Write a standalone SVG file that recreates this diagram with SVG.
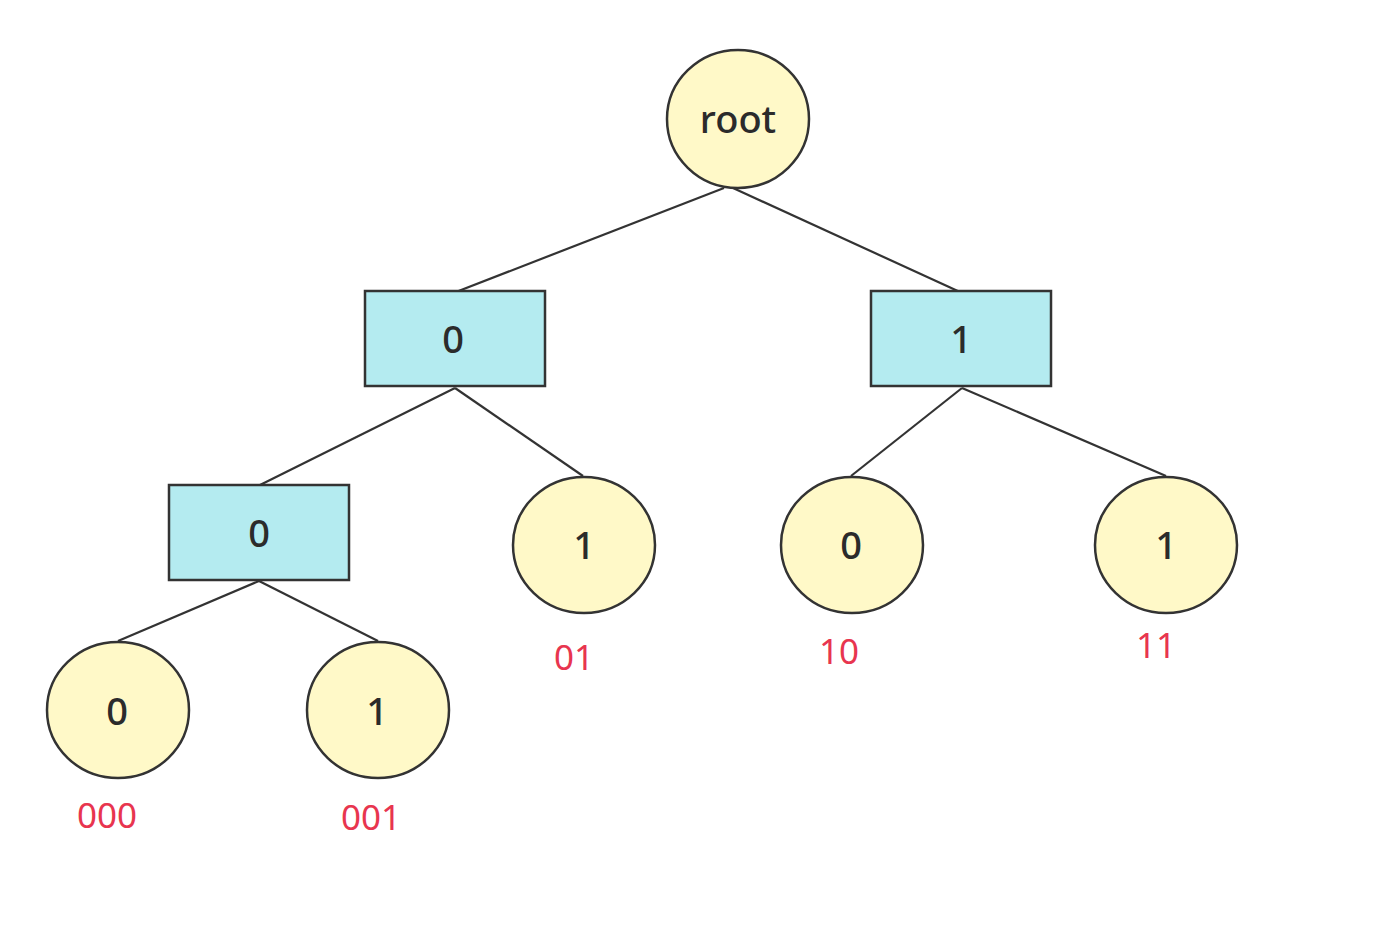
<svg xmlns="http://www.w3.org/2000/svg" width="1398" height="934" viewBox="0 0 1398 934">
<style>
.c{fill:#fff9c8;stroke:#333;stroke-width:2.5}
.r{fill:#b4ebf0;stroke:#333;stroke-width:2.5}
.t{font-family:"Noto Sans","Liberation Sans",sans-serif;font-size:38px;font-weight:500;fill:#2b2b2b;text-anchor:middle;dominant-baseline:central}
.l{font-family:"Noto Sans","Liberation Sans",sans-serif;font-size:35px;fill:#e8354f;text-anchor:middle}
.e{stroke:#333;stroke-width:2.2;fill:none}
</style>
<rect width="1398" height="934" fill="#fff"/>
<g id="connectors">
<line class="e" x1="724" y1="188" x2="456" y2="292"/>
<line class="e" x1="733" y1="188" x2="960" y2="292"/>
<line class="e" x1="455" y1="388" x2="260" y2="485"/>
<line class="e" x1="455" y1="388" x2="583" y2="476"/>
<line class="e" x1="962" y1="388" x2="851" y2="476"/>
<line class="e" x1="962" y1="388" x2="1166" y2="476"/>
<line class="e" x1="259" y1="581" x2="118" y2="641"/>
<line class="e" x1="259" y1="581" x2="378" y2="641"/>
</g>
<g id="root"><ellipse class="c" cx="738" cy="119" rx="71" ry="69"/><text class="t" x="738" y="118">root</text></g>
<g id="n0"><rect class="r" x="365" y="291" width="180" height="95"/><text class="t" x="453" y="338">0</text></g>
<g id="n1"><rect class="r" x="871" y="291" width="180" height="95"/><text class="t" x="961" y="338">1</text></g>
<g id="n00"><rect class="r" x="169" y="485" width="180" height="95"/><text class="t" x="259" y="532">0</text></g>
<g id="n01"><ellipse class="c" cx="584" cy="545" rx="71" ry="68"/><text class="t" x="584" y="544">1</text></g>
<g id="n10"><ellipse class="c" cx="852" cy="545" rx="71" ry="68"/><text class="t" x="851" y="544">0</text></g>
<g id="n11"><ellipse class="c" cx="1166" cy="545" rx="71" ry="68"/><text class="t" x="1166" y="544">1</text></g>
<g id="n000"><ellipse class="c" cx="118" cy="710" rx="71" ry="68"/><text class="t" x="117" y="710">0</text></g>
<g id="n001"><ellipse class="c" cx="378" cy="710" rx="71" ry="68"/><text class="t" x="377" y="710">1</text></g>
<g id="labels">
<text class="l" x="107" y="828">000</text>
<text class="l" x="371" y="830">001</text>
<text class="l" x="574" y="670">01</text>
<text class="l" x="839" y="664">10</text>
<text class="l" x="1156" y="658">11</text>
</g>
</svg>
